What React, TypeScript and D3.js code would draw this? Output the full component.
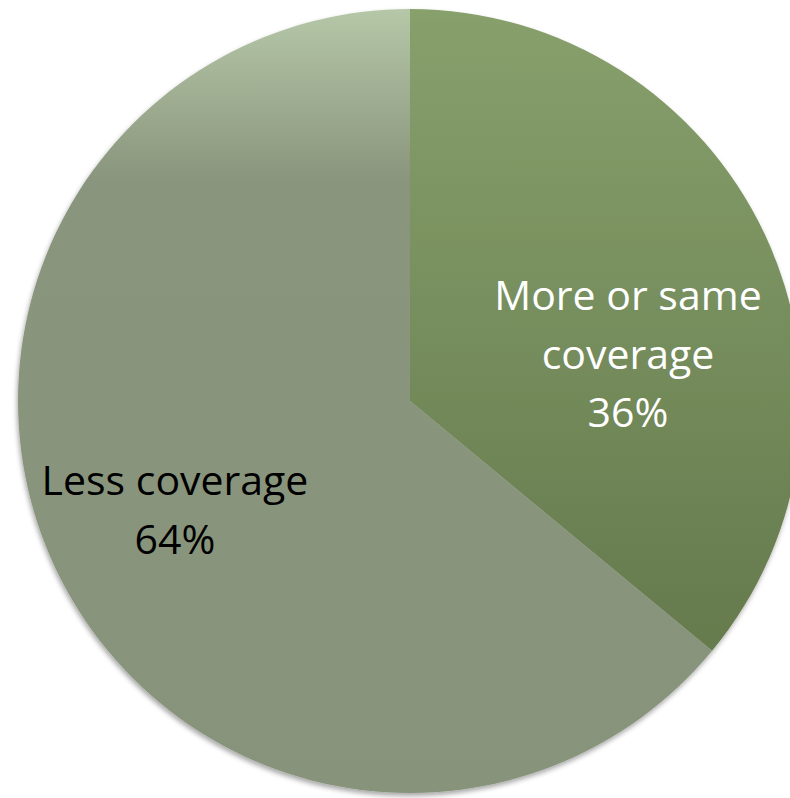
import React from "react";
import * as d3 from "d3";

const categories = ["More or same coverage", "Less coverage"];
const values = [36, 64];
const labelLines = [["More or same", "coverage", "36%"], ["Less coverage", "64%"]];

const W = 790, H = 798;
const cx = 410, cy = 401, R = 392;

export default function App() {
  const pie = d3.pie<number>().sort(null).value((d) => d);
  const arcs = pie(values);
  const arcGen = d3.arc<d3.PieArcDatum<number>>().innerRadius(0).outerRadius(R);
  const fills = ["url(#g1)", "url(#g2)"];
  const labelPos = [
    { x: 628 - cx, y: 310 - cy, color: "#ffffff" },
    { x: 175 - cx, y: 495 - cy, color: "#000000" },
  ];
  return (
    <svg width={W} height={H} style={{ position: "absolute", left: 0, top: 0 }}>
      <defs>
        <linearGradient id="g1" x1="0" y1="0" x2="0" y2="1">
          <stop offset="0" stopColor="#87a06c" />
          <stop offset="1" stopColor="#657a4d" />
        </linearGradient>
        <linearGradient id="g2" x1="0" y1="0" x2="0" y2="1">
          <stop offset="0" stopColor="#b6c7a8" />
          <stop offset="0.22" stopColor="#89957c" />
          <stop offset="1" stopColor="#87937a" />
        </linearGradient>
        <filter id="sh" x="-10%" y="-10%" width="120%" height="120%">
          <feDropShadow dx="-1" dy="3" stdDeviation="2.5" floodColor="#000" floodOpacity="0.35" />
        </filter>
      </defs>
      <g transform={`translate(${cx},${cy})`}>
        <g filter="url(#sh)">
          {arcs.map((a, i) => (
            <path key={categories[i]} d={arcGen(a) || ""} fill={fills[i]} />
          ))}
        </g>
        {arcs.map((a, i) => (
          <text
            key={"t" + i}
            x={labelPos[i].x}
            y={labelPos[i].y}
            fill={labelPos[i].color}
            textAnchor="middle"
            fontFamily="'Open Sans', Lato, sans-serif"
            fontSize={41}
          >
            {labelLines[i].map((l, j) => (
              <tspan key={j} x={labelPos[i].x} dy={j === 0 ? 0 : 58.5}>
                {l}
              </tspan>
            ))}
          </text>
        ))}
      </g>
    </svg>
  );
}
